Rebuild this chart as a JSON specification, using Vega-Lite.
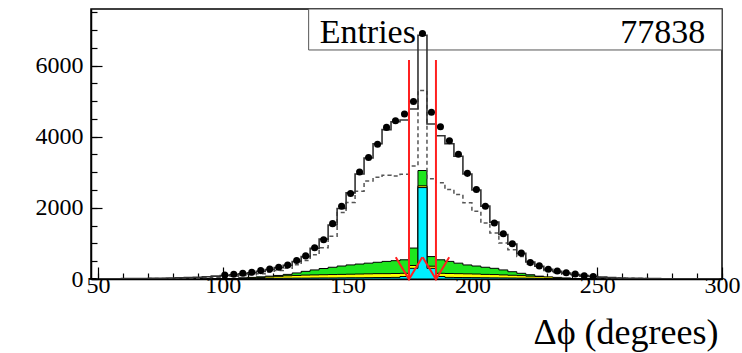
{
  "$schema": "https://vega.github.io/schema/vega-lite/v6.json",
  "width": 631,
  "height": 270,
  "autosize": {"type": "none"},
  "padding": {"left": 91, "top": 9, "right": 20, "bottom": 74},
  "background": "white",
  "config": {
    "font": "Liberation Serif",
    "view": {"stroke": "black", "strokeWidth": 1.5},
    "axis": {"grid": false, "domainColor": "black", "domainWidth": 1.5, "tickColor": "black", "tickWidth": 1.2, "labelColor": "black", "labelFont": "Liberation Serif", "titleFont": "Liberation Serif", "labelOverlap": false, "labelBound": false, "labelFlush": false}
  },
  "datasets": {
    "bins": [
      {"x": 50.4, "mc": 6, "dash": 3, "green": 0, "yellow": 0, "cyan": 0},
      {"x": 54.0, "mc": 7, "dash": 4, "green": 0, "yellow": 0, "cyan": 0},
      {"x": 57.6, "mc": 8, "dash": 5, "green": 0, "yellow": 0, "cyan": 0},
      {"x": 61.2, "mc": 10, "dash": 6, "green": 0, "yellow": 0, "cyan": 0},
      {"x": 64.8, "mc": 12, "dash": 7, "green": 0, "yellow": 0, "cyan": 0},
      {"x": 68.4, "mc": 15, "dash": 9, "green": 0, "yellow": 0, "cyan": 0},
      {"x": 72.0, "mc": 18, "dash": 11, "green": 0, "yellow": 0, "cyan": 0},
      {"x": 75.6, "mc": 22, "dash": 13, "green": 0, "yellow": 0, "cyan": 0},
      {"x": 79.2, "mc": 27, "dash": 16, "green": 0, "yellow": 0, "cyan": 0},
      {"x": 82.8, "mc": 33, "dash": 20, "green": 0, "yellow": 0, "cyan": 0},
      {"x": 86.4, "mc": 40, "dash": 25, "green": 0, "yellow": 0, "cyan": 0},
      {"x": 90.0, "mc": 50, "dash": 31, "green": 0, "yellow": 0, "cyan": 0},
      {"x": 93.6, "mc": 62, "dash": 39, "green": 0, "yellow": 0, "cyan": 0},
      {"x": 97.2, "mc": 80, "dash": 50, "green": 0, "yellow": 0, "cyan": 0},
      {"x": 100.8, "data": 113, "mc": 100, "dash": 60, "green": 0, "yellow": 0, "cyan": 0},
      {"x": 104.4, "data": 132, "mc": 120, "dash": 75, "green": 0, "yellow": 0, "cyan": 0},
      {"x": 108.0, "data": 160, "mc": 145, "dash": 95, "green": 30, "yellow": 25, "cyan": 10},
      {"x": 111.6, "data": 189, "mc": 175, "dash": 120, "green": 45, "yellow": 35, "cyan": 12},
      {"x": 115.2, "data": 236, "mc": 215, "dash": 150, "green": 60, "yellow": 45, "cyan": 15},
      {"x": 118.8, "data": 283, "mc": 265, "dash": 190, "green": 80, "yellow": 60, "cyan": 18},
      {"x": 122.4, "data": 330, "mc": 320, "dash": 240, "green": 100, "yellow": 75, "cyan": 20},
      {"x": 126.0, "data": 396, "mc": 385, "dash": 300, "green": 130, "yellow": 90, "cyan": 22},
      {"x": 129.6, "data": 519, "mc": 490, "dash": 400, "green": 170, "yellow": 100, "cyan": 25},
      {"x": 133.2, "data": 650, "mc": 630, "dash": 520, "green": 215, "yellow": 110, "cyan": 25},
      {"x": 136.8, "data": 880, "mc": 860, "dash": 680, "green": 255, "yellow": 115, "cyan": 28},
      {"x": 140.4, "data": 1103, "mc": 1120, "dash": 877, "green": 295, "yellow": 120, "cyan": 30},
      {"x": 144.0, "data": 1556, "mc": 1520, "dash": 1200, "green": 330, "yellow": 125, "cyan": 30},
      {"x": 147.6, "data": 2046, "mc": 1980, "dash": 1866, "green": 365, "yellow": 130, "cyan": 32},
      {"x": 151.2, "data": 2404, "mc": 2420, "dash": 2150, "green": 396, "yellow": 135, "cyan": 35},
      {"x": 154.8, "data": 3008, "mc": 2950, "dash": 2470, "green": 420, "yellow": 140, "cyan": 35},
      {"x": 158.4, "data": 3414, "mc": 3400, "dash": 2752, "green": 445, "yellow": 145, "cyan": 38},
      {"x": 162.0, "data": 3790, "mc": 3800, "dash": 2857, "green": 470, "yellow": 150, "cyan": 40},
      {"x": 165.6, "data": 4262, "mc": 4200, "dash": 2914, "green": 495, "yellow": 150, "cyan": 42},
      {"x": 169.2, "data": 4450, "mc": 4420, "dash": 2894, "green": 515, "yellow": 155, "cyan": 45},
      {"x": 172.8, "data": 4640, "mc": 4470, "dash": 2942, "green": 540, "yellow": 160, "cyan": 70},
      {"x": 176.4, "data": 4988, "mc": 4780, "dash": 3177, "green": 870, "yellow": 380, "cyan": 300},
      {"x": 180.0, "data": 6900, "mc": 6850, "dash": 5300, "green": 3050, "yellow": 2620, "cyan": 2570},
      {"x": 183.6, "data": 4690, "mc": 4356, "dash": 2820, "green": 630, "yellow": 360, "cyan": 300},
      {"x": 187.2, "data": 4280, "mc": 4025, "dash": 2707, "green": 540, "yellow": 160, "cyan": 70},
      {"x": 190.8, "data": 3885, "mc": 3800, "dash": 2517, "green": 495, "yellow": 155, "cyan": 45},
      {"x": 194.4, "data": 3508, "mc": 3450, "dash": 2376, "green": 445, "yellow": 150, "cyan": 42},
      {"x": 198.0, "data": 2970, "mc": 2950, "dash": 2141, "green": 395, "yellow": 145, "cyan": 40},
      {"x": 201.6, "data": 2518, "mc": 2500, "dash": 1904, "green": 365, "yellow": 140, "cyan": 38},
      {"x": 205.2, "data": 2046, "mc": 2050, "dash": 1575, "green": 330, "yellow": 130, "cyan": 35},
      {"x": 208.8, "data": 1575, "mc": 1600, "dash": 1293, "green": 300, "yellow": 125, "cyan": 32},
      {"x": 212.4, "data": 1273, "mc": 1250, "dash": 1010, "green": 255, "yellow": 115, "cyan": 30},
      {"x": 216.0, "data": 990, "mc": 980, "dash": 820, "green": 205, "yellow": 105, "cyan": 28},
      {"x": 219.6, "data": 727, "mc": 720, "dash": 630, "green": 160, "yellow": 95, "cyan": 25},
      {"x": 223.2, "data": 461, "mc": 480, "dash": 420, "green": 120, "yellow": 80, "cyan": 22},
      {"x": 226.8, "data": 368, "mc": 360, "dash": 320, "green": 80, "yellow": 70, "cyan": 20},
      {"x": 230.4, "data": 274, "mc": 275, "dash": 240, "green": 40, "yellow": 60, "cyan": 15},
      {"x": 234.0, "data": 226, "mc": 215, "dash": 180, "green": 0, "yellow": 45, "cyan": 12},
      {"x": 237.6, "data": 178, "mc": 165, "dash": 135, "green": 0, "yellow": 30, "cyan": 10},
      {"x": 241.2, "data": 141, "mc": 125, "dash": 100, "green": 0, "yellow": 0, "cyan": 0},
      {"x": 244.8, "data": 93, "mc": 95, "dash": 75, "green": 0, "yellow": 0, "cyan": 0},
      {"x": 248.4, "data": 70, "mc": 72, "dash": 55, "green": 0, "yellow": 0, "cyan": 0},
      {"x": 252.0, "mc": 54, "dash": 45, "green": 0, "yellow": 0, "cyan": 0},
      {"x": 255.6, "mc": 40, "dash": 34, "green": 0, "yellow": 0, "cyan": 0},
      {"x": 259.2, "mc": 30, "dash": 26, "green": 0, "yellow": 0, "cyan": 0},
      {"x": 262.8, "mc": 23, "dash": 20, "green": 0, "yellow": 0, "cyan": 0},
      {"x": 266.4, "mc": 18, "dash": 15, "green": 0, "yellow": 0, "cyan": 0},
      {"x": 270.0, "mc": 14, "dash": 12, "green": 0, "yellow": 0, "cyan": 0},
      {"x": 273.6, "mc": 11, "dash": 9, "green": 0, "yellow": 0, "cyan": 0},
      {"x": 277.2, "mc": 9, "dash": 7, "green": 0, "yellow": 0, "cyan": 0},
      {"x": 280.8, "mc": 7, "dash": 6, "green": 0, "yellow": 0, "cyan": 0},
      {"x": 284.4, "mc": 6, "dash": 5, "green": 0, "yellow": 0, "cyan": 0},
      {"x": 288.0, "mc": 5, "dash": 4, "green": 0, "yellow": 0, "cyan": 0},
      {"x": 291.6, "mc": 4, "dash": 3, "green": 0, "yellow": 0, "cyan": 0},
      {"x": 295.2, "mc": 3, "dash": 3, "green": 0, "yellow": 0, "cyan": 0},
      {"x": 298.8, "mc": 3, "dash": 2, "green": 0, "yellow": 0, "cyan": 0}
    ],
    "cuts": [{"cut": 174.6}, {"cut": 185.4}],
    "stats": [{"name": "Entries", "entries": "77838"}]
  },
  "resolve": {"axis": {"x": "independent", "y": "independent"}},
  "layer": [
    {
      "layer": [
        {
          "data": {"name": "stats"},
          "mark": {"type": "rect", "fill": "white", "stroke": "#555555", "strokeWidth": 1},
          "encoding": {
            "x": {"datum": 134.4},
            "x2": {"datum": 300},
            "y": {"datum": 6438},
            "y2": {"datum": 7590}
          }
        },
        {
          "data": {"name": "bins"},
          "mark": {"type": "area", "interpolate": "step", "fill": "#1ee61e", "stroke": "black", "strokeWidth": 1, "clip": true},
          "encoding": {
            "x": {"field": "x", "type": "quantitative", "scale": {"domain": [47.2, 300], "nice": false, "zero": false},
              "axis": {"orient": "bottom", "values": [50, 100, 150, 200, 250, 300], "labelOverlap": false,
                "tickSize": -12, "labelFontSize": 24, "labelPadding": 6,
                "title": "Δϕ (degrees)", "titleFontSize": 36, "titleFontWeight": "normal", "titleAlign": "right", "titleBaseline": "alphabetic", "titleAnchor": "end", "titleX": 627, "titleY": 64, "titleColor": "black"}},
            "y": {"field": "green", "type": "quantitative", "scale": {"domain": [0, 7590], "nice": false},
              "axis": {"orient": "left", "values": [0, 2000, 4000, 6000], "format": "d", "labelOverlap": false,
                "tickSize": -11, "labelFontSize": 24, "labelPadding": 19, "title": null}}
          }
        },
        {
          "data": {"name": "bins"},
          "mark": {"type": "area", "interpolate": "step", "fill": "#ffff00", "stroke": "black", "strokeWidth": 1, "clip": true},
          "encoding": {
            "x": {"field": "x", "type": "quantitative"},
            "y": {"field": "yellow", "type": "quantitative"}
          }
        },
        {
          "data": {"name": "bins"},
          "mark": {"type": "area", "interpolate": "step", "fill": "#00f0ff", "stroke": "black", "strokeWidth": 1, "clip": true},
          "encoding": {
            "x": {"field": "x", "type": "quantitative"},
            "y": {"field": "cyan", "type": "quantitative"}
          }
        },
        {
          "data": {"name": "bins"},
          "mark": {"type": "line", "interpolate": "step", "color": "#555555", "strokeWidth": 1.5, "strokeDash": [4, 3], "clip": true},
          "encoding": {
            "x": {"field": "x", "type": "quantitative"},
            "y": {"field": "dash", "type": "quantitative"}
          }
        },
        {
          "data": {"name": "bins"},
          "mark": {"type": "line", "interpolate": "step", "color": "#333333", "strokeWidth": 1.6, "clip": true},
          "encoding": {
            "x": {"field": "x", "type": "quantitative"},
            "y": {"field": "mc", "type": "quantitative"}
          }
        },
        {
          "data": {"name": "cuts"},
          "mark": {"type": "rule", "color": "#ff2020", "strokeWidth": 2},
          "encoding": {
            "x": {"field": "cut", "type": "quantitative"},
            "y": {"datum": 6157},
            "y2": {"datum": 0}
          }
        },
        {
          "data": {"name": "stats"},
          "mark": {"type": "text", "align": "left", "baseline": "alphabetic", "fontSize": 34, "font": "Liberation Serif", "color": "black"},
          "encoding": {
            "x": {"datum": 138.8},
            "y": {"datum": 6640},
            "text": {"field": "name"}
          }
        },
        {
          "data": {"name": "stats"},
          "mark": {"type": "text", "align": "right", "baseline": "alphabetic", "fontSize": 34, "font": "Liberation Serif", "color": "black"},
          "encoding": {
            "x": {"datum": 293.3},
            "y": {"datum": 6640},
            "text": {"field": "entries"}
          }
        }
      ]
    },
    {
      "data": {"name": "bins"},
      "transform": [{"filter": "isValid(datum.data)"}],
      "layer": [
        {
          "mark": {"type": "point", "filled": true, "color": "black", "size": 50, "opacity": 1},
          "encoding": {
            "x": {"field": "x", "type": "quantitative", "scale": {"domain": [47.2, 300], "nice": false, "zero": false},
              "axis": {"orient": "bottom", "values": [50,60,70,80,90,100,110,120,130,140,150,160,170,180,190,200,210,220,230,240,250,260,270,280,290,300],
                "labels": false, "domain": false, "tickSize": -6, "title": null}},
            "y": {"field": "data", "type": "quantitative", "scale": {"domain": [0, 7590], "nice": false},
              "axis": {"orient": "left", "values": [0,500,1000,1500,2000,2500,3000,3500,4000,4500,5000,5500,6000,6500,7000,7500],
                "labels": false, "domain": false, "tickSize": -6, "title": null}}
          }
        }
      ]
    },
    {
      "data": {"name": "cuts"},
      "layer": [
        {
          "mark": {"type": "point", "shape": "M-1,-0.83L0,0.83L1,-0.83", "filled": false, "stroke": "#ff2020", "strokeWidth": 2, "size": 700, "opacity": 1},
          "encoding": {
            "x": {"field": "cut", "type": "quantitative", "scale": {"domain": [47.2, 300], "nice": false, "zero": false},
              "axis": {"orient": "bottom", "values": [], "labels": false, "ticks": false, "domain": false, "title": null}},
            "y": {"datum": 300, "scale": {"domain": [0, 7590], "nice": false},
              "axis": {"orient": "left", "values": [], "labels": false, "ticks": false, "domain": false, "title": null}}
          }
        }
      ]
    }
  ]
}
